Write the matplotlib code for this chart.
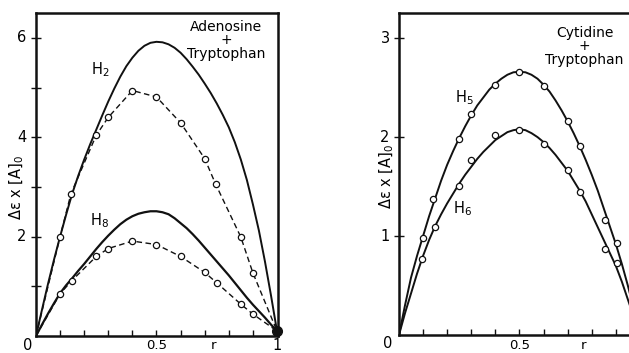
import matplotlib
matplotlib.use('Agg')
import matplotlib.pyplot as plt

# ── Data ────────────────────────────────────────────────────
# Adenosine + Tryptophan: measured points (dashed) and calculated curves (solid)
ad_r_pts = [0.0, 0.10, 0.145, 0.25, 0.30, 0.40, 0.50, 0.60, 0.70, 0.745, 0.85, 0.90, 1.0]
ad_h2_pts = [0.0, 2.00, 2.86, 4.04, 4.40, 4.94, 4.81, 4.29, 3.57, 3.06, 1.99, 1.27, 0.10]
ad_h8_r_pts = [0.0, 0.10, 0.148, 0.25, 0.30, 0.40, 0.50, 0.60, 0.70, 0.75, 0.85, 0.90, 1.0]
ad_h8_pts = [0.0, 0.85, 1.11, 1.60, 1.76, 1.91, 1.84, 1.60, 1.28, 1.07, 0.64, 0.44, 0.10]

curve_r = [0.0, 0.025, 0.05, 0.075, 0.10, 0.125, 0.15, 0.175, 0.20, 0.225,
           0.25, 0.275, 0.30, 0.325, 0.35, 0.375, 0.40, 0.425, 0.45, 0.475,
           0.50, 0.525, 0.55, 0.575, 0.60, 0.625, 0.65, 0.675, 0.70, 0.725,
           0.75, 0.775, 0.80, 0.825, 0.85, 0.875, 0.90, 0.925, 0.95, 0.975, 1.0]
ad_h2_curve = [0.0, 0.53, 1.05, 1.54, 2.00, 2.44, 2.86, 3.22, 3.55, 3.86,
               4.15, 4.44, 4.72, 4.98, 5.22, 5.43, 5.60, 5.74, 5.84, 5.90,
               5.92, 5.91, 5.87, 5.80, 5.70, 5.57, 5.42, 5.26, 5.08, 4.89,
               4.68, 4.45, 4.20, 3.90, 3.55, 3.14, 2.65, 2.12, 1.50, 0.82, 0.10]
ad_h8_curve = [0.0, 0.23, 0.45, 0.66, 0.86, 1.02, 1.16, 1.31, 1.45, 1.60,
               1.75, 1.89, 2.02, 2.14, 2.25, 2.34, 2.41, 2.46, 2.49, 2.51,
               2.51, 2.49, 2.45, 2.37, 2.27, 2.17, 2.05, 1.92, 1.78, 1.64,
               1.50, 1.36, 1.22, 1.07, 0.92, 0.77, 0.63, 0.50, 0.37, 0.23, 0.10]

# Cytidine + Tryptophan
cy_h5_r_pts = [0.10, 0.143, 0.25, 0.30, 0.40, 0.50, 0.60, 0.70, 0.752, 0.855, 0.905]
cy_h5_pts = [0.98, 1.37, 1.98, 2.23, 2.53, 2.66, 2.52, 2.16, 1.91, 1.16, 0.93]
cy_h6_r_pts = [0.096, 0.15, 0.248, 0.298, 0.40, 0.50, 0.60, 0.70, 0.75, 0.857, 0.905]
cy_h6_pts = [0.77, 1.09, 1.51, 1.77, 2.02, 2.07, 1.93, 1.67, 1.45, 0.87, 0.73]

cy_h5_curve = [0.0, 0.30, 0.58, 0.80, 1.00, 1.20, 1.38, 1.56, 1.72, 1.86,
               1.99, 2.11, 2.22, 2.32, 2.40, 2.48, 2.54, 2.59, 2.63, 2.655,
               2.66, 2.655, 2.63, 2.59, 2.53, 2.46, 2.37, 2.27, 2.16, 2.04,
               1.91, 1.77, 1.62, 1.46, 1.28, 1.10, 0.92, 0.72, 0.50, 0.26, 0.0]
cy_h6_curve = [0.0, 0.22, 0.42, 0.62, 0.80, 0.96, 1.10, 1.22, 1.33, 1.43,
               1.53, 1.62, 1.70, 1.78, 1.85, 1.91, 1.97, 2.01, 2.05, 2.07,
               2.08, 2.07, 2.04, 2.00, 1.95, 1.89, 1.82, 1.74, 1.66, 1.56,
               1.46, 1.35, 1.22, 1.09, 0.96, 0.83, 0.70, 0.54, 0.36, 0.18, 0.0]

minor_r = [0.1, 0.2, 0.3, 0.4, 0.5, 0.6, 0.7, 0.8, 0.9]

plt.rcParams.update({
    'font.family': 'DejaVu Sans',
    'font.size': 10.5,
})

INK = '#111111'
FS = 10.5


def style_axes(ax, yticks):
    for s in ax.spines.values():
        s.set_linewidth(1.8)
        s.set_color(INK)
    ax.set_xticks(minor_r)
    ax.set_xticklabels([])
    ax.set_yticks(yticks)
    ax.set_yticklabels([])
    ax.tick_params(axis='x', direction='in', length=4, width=1.0, color=INK)
    ax.tick_params(axis='y', direction='inout', length=7, width=1.0, color=INK)


def open_pts(ax, x, y):
    ax.plot(x, y, 'o', ms=4.5, mfc='white', mec=INK, mew=0.9, zorder=5,
            clip_on=False)


fig = plt.figure(figsize=(6.29, 3.53), dpi=100)

# ── Left panel: Adenosine + Tryptophan ──────────────────────
ax1 = fig.add_axes([0.0572, 0.0482, 0.3847, 0.915])
ax1.plot(curve_r, ad_h2_curve, '-', color=INK, lw=1.4)
ax1.plot(curve_r, ad_h8_curve, '-', color=INK, lw=1.6)
ax1.plot(ad_r_pts, ad_h2_pts, '--', color=INK, lw=1.0, dashes=(4, 2.5))
ax1.plot(ad_h8_r_pts, ad_h8_pts, '--', color=INK, lw=1.0, dashes=(4, 2.5))
open_pts(ax1, ad_r_pts[1:-1], ad_h2_pts[1:-1])
open_pts(ax1, ad_h8_r_pts[1:-1], ad_h8_pts[1:-1])
ax1.plot([1.0], [0.1], 'o', ms=7, color=INK, zorder=6, clip_on=False)
ax1.set_xlim(0, 1.004)
ax1.set_ylim(0, 6.5)
style_axes(ax1, [1, 2, 3, 4, 5, 6])

for v in [2, 4, 6]:
    ax1.text(-0.06, v, str(v), ha='center', va='center', fontsize=FS)
ax1.text(-0.035, -0.05, '0', ha='center', va='top', fontsize=FS)
ax1.text(0.5, -0.26, '0.5', ha='center', va='baseline', fontsize=FS - 1)
ax1.text(0.735, -0.26, 'r', ha='center', va='baseline', fontsize=FS - 1)
ax1.text(1.0, -0.05, '1', ha='center', va='top', fontsize=FS)
ax1.text(-0.08, 3.0, r'Δε x [A]$_0$', rotation=90, ha='center', va='center',
         fontsize=FS)
ax1.text(0.266, 5.35, r'H$_2$', ha='center', va='center', fontsize=FS)
ax1.text(0.262, 2.33, r'H$_8$', ha='center', va='center', fontsize=FS)
ax1.text(0.79, 5.95, 'Adenosine\n+\nTryptophan', ha='center', va='center',
         fontsize=FS - 0.5, linespacing=0.95)

# ── Right panel: Cytidine + Tryptophan ──────────────────────
ax2 = fig.add_axes([0.6343, 0.051, 0.383, 0.911])
ax2.plot(curve_r, cy_h5_curve, '-', color=INK, lw=1.4)
ax2.plot(curve_r, cy_h6_curve, '-', color=INK, lw=1.4)
open_pts(ax2, cy_h5_r_pts, cy_h5_pts)
open_pts(ax2, cy_h6_r_pts, cy_h6_pts)
ax2.set_xlim(0, 1.0)
ax2.set_ylim(0, 3.25)
style_axes(ax2, [1, 2, 3])

for v in [1, 2, 3]:
    ax2.text(-0.058, v, str(v), ha='center', va='center', fontsize=FS)
ax2.text(-0.045, -0.01, '0', ha='center', va='top', fontsize=FS)
ax2.text(0.5, -0.14, '0.5', ha='center', va='baseline', fontsize=FS - 1)
ax2.text(0.765, -0.14, 'r', ha='center', va='baseline', fontsize=FS - 1)
ax2.text(-0.05, 1.6, r'Δε x [A]$_0$', rotation=90, ha='center', va='center',
         fontsize=FS)
ax2.text(0.27, 2.4, r'H$_5$', ha='center', va='center', fontsize=FS)
ax2.text(0.265, 1.28, r'H$_6$', ha='center', va='center', fontsize=FS)
ax2.text(0.77, 2.92, 'Cytidine\n+\nTryptophan', ha='center', va='center',
         fontsize=FS - 0.5, linespacing=0.95)

fig.savefig('out.png', dpi=100)
plt.close(fig)
